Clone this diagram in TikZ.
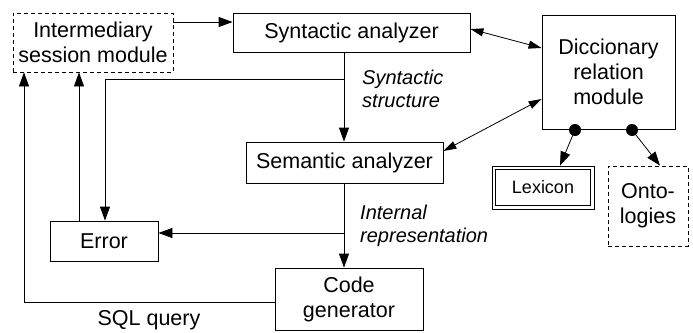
\documentclass[tikz,border=0pt]{standalone}
\usepackage{fontspec}
\setmainfont{Liberation Sans}
\usetikzlibrary{arrows.meta}
\begin{document}
\begin{tikzpicture}[x=1pt,y=-1pt,
  every node/.style={font=\fontsize{21.5}{25}\selectfont, align=center, inner sep=0pt},
  box/.style={draw, line width=0.8pt, minimum width=#1},
  dbox/.style={box=#1, dash pattern=on 4pt off 3pt},
  lbl/.style={font=\fontsize{20}{23}\selectfont\itshape, align=left, anchor=west},
  arr/.style={line width=0.8pt, -{Triangle[length=14pt,width=10pt]}},
  darr/.style={line width=0.8pt, {Triangle[length=13pt,width=8pt]}-{Triangle[length=13pt,width=8pt]}},
  conn/.style={line width=0.8pt}
]
\useasboundingbox (0,0) rectangle (693,332);
% nodes
\node[dbox=160pt, minimum height=59pt] (inter) at (93,42.5) {Intermediary\\session module};
\node[box=237pt, minimum height=39pt] (syn) at (351.5,32.5) {Syntactic analyzer};
\node[box=197pt, minimum height=41pt] (sem) at (344.5,162.5) {Semantic analyzer};
\node[box=108pt, minimum height=40pt] (err) at (104,241) {Error};
\node[box=148pt, minimum height=62pt] (code) at (349,299) {Code\\generator};
\node[box=133pt, minimum height=114pt] (dic) at (608.5,72) {Diccionary\\relation\\module};
\node[box=102pt, minimum height=43pt, font=\fontsize{18}{21}\selectfont] (lex) at (543,187.5) {Lexicon};
\draw[line width=0.8pt] ([shift={(4pt,4pt)}]lex.south west) rectangle ([shift={(-4pt,-4pt)}]lex.north east);
\node[dbox=80pt, minimum height=80pt] (onto) at (648,206) {Onto-\\logies};
% labels
\node[lbl] (synlbl) at (362,89) {Syntactic\\structure};
\node[lbl] (intlbl) at (360,226) {Internal\\representation};
\node (sql) at (149,320) {SQL query};
% coordinates
\coordinate (b1) at (344,79);
\coordinate (b1c) at (105,79);
\coordinate (b2) at (344,233);
\coordinate (c1) at (24,302);
\coordinate (d1) at (575,130);
\coordinate (d2) at (632,130);
% connectors
\draw[arr] (inter.east |- 0,22) -- (syn.west |- 0,22);
\draw[darr] (syn.east |- 0,29) -- (dic.west |- 0,48);
\draw[darr] (sem.east |- 0,151) -- (dic.west |- 0,99);
\draw[arr] (syn.south -| b1) -- (sem.north -| b1);
\draw[conn] (b1) -- (b1c);
\draw[arr] (b1c) -- (err.north -| b1c);
\draw[arr] (err.north -| 79,0) -- (inter.south -| 79,0);
\draw[arr] (sem.south -| b2) -- (code.north -| b2);
\draw[arr] (b2) -- (err.east |- b2);
\draw[conn] (code.west |- c1) -- (c1);
\draw[arr] (c1) -- (inter.south -| c1);
\fill (d1) circle (6pt);
\fill (d2) circle (6pt);
\draw[arr] (d1) -- (lex.north -| 560,0);
\draw[arr] (d2) -- (onto.north -| 660,0);
\end{tikzpicture}
\end{document}
